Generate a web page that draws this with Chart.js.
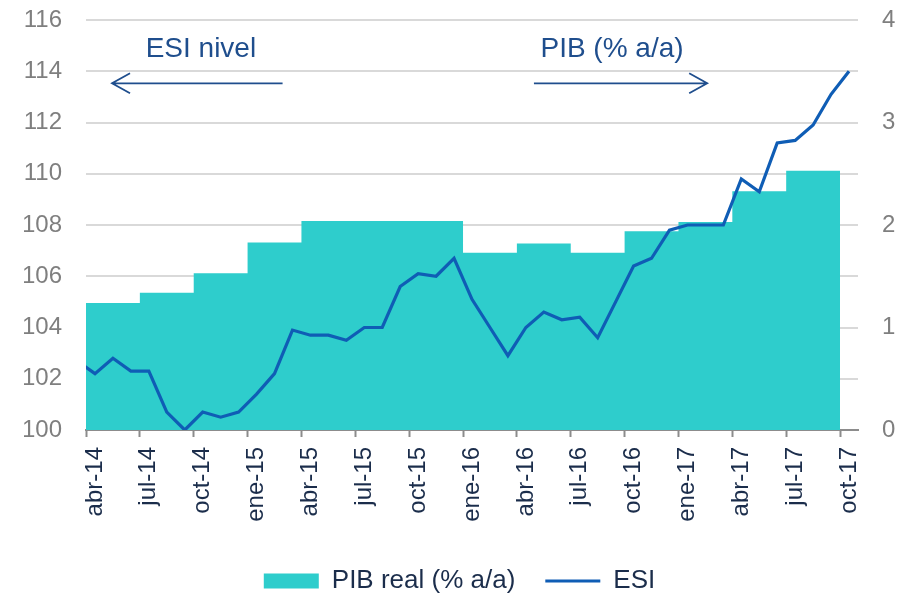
<!DOCTYPE html>
<html>
<head>
<meta charset="utf-8">
<script src="https://cdn.jsdelivr.net/npm/chart.js@4.4.0/dist/chart.umd.min.js"></script>
<style>
  body { margin: 0; background: #fff; }
</style>
</head>
<body>
<canvas id="esiChart" width="908" height="595"></canvas>
<script>
// |------------------------------- Data -------------------------------|

// months of the ESI series (mar-14 sits just left of the axis and is clipped)
var months = ['mar-14', 'abr-14', 'may-14', 'jun-14', 'jul-14', 'ago-14', 'sep-14', 'oct-14', 'nov-14', 'dic-14',
  'ene-15', 'feb-15', 'mar-15', 'abr-15', 'may-15', 'jun-15', 'jul-15', 'ago-15', 'sep-15', 'oct-15', 'nov-15', 'dic-15',
  'ene-16', 'feb-16', 'mar-16', 'abr-16', 'may-16', 'jun-16', 'jul-16', 'ago-16', 'sep-16', 'oct-16', 'nov-16', 'dic-16',
  'ene-17', 'feb-17', 'mar-17', 'abr-17', 'may-17', 'jun-17', 'jul-17', 'ago-17', 'sep-17', 'oct-17'];

var esiValues = [102.7, 102.2, 102.8, 102.3, 102.3, 100.7, 100.0, 100.7, 100.5, 100.7,
  101.4, 102.2, 103.9, 103.7, 103.7, 103.5, 104.0, 104.0, 105.6, 106.1, 106.0, 106.7,
  105.1, 104.0, 102.9, 104.0, 104.6, 104.3, 104.4, 103.6, 105.0, 106.4, 106.7, 107.8,
  108.0, 108.0, 108.0, 109.8, 109.3, 111.2, 111.3, 111.9, 113.1, 114.0];

// quarterly GDP, % y/y (right axis)
var quarters = ['1T14', '2T14', '3T14', '4T14', '1T15', '2T15', '3T15', '4T15',
  '1T16', '2T16', '3T16', '4T16', '1T17', '2T17', '3T17'];
var pibValues = [1.53, 1.24, 1.34, 1.53, 1.83, 2.04, 2.04, 2.04, 1.73, 1.82, 1.73, 1.94, 2.03, 2.33, 2.53];

var tickLabels = ['abr-14', 'jul-14', 'oct-14', 'ene-15', 'abr-15', 'jul-15', 'oct-15', 'ene-16',
  'abr-16', 'jul-16', 'oct-16', 'ene-17', 'abr-17', 'jul-17', 'oct-17'];

// x axis runs in months, 0 = start of abr-14
var esiPoints = esiValues.map(function (v, i) { return { x: i - 0.5, y: v }; });
var pibPoints = pibValues.map(function (v, i) { return { x: i * 3 - 3, y: v }; });
pibPoints.push({ x: pibValues.length * 3 - 3, y: pibValues[pibValues.length - 1] });

var FONT = '"Liberation Sans", Arial, sans-serif';
var BLUE = '#1f4e8d';

// text + arrow notes at the top
var notes = [
  { text: 'ESI nivel', textX: 6.4, textY: 114.55, from: 10.95, to: 1.45, arrowY: 113.53 },
  { text: 'PIB (% a/a)', textX: 29.3, textY: 114.55, from: 24.95, to: 34.6, arrowY: 113.53 }
];

var arrowNotes = {
  id: 'arrowNotes',
  afterDraw: function (chart) {
    var ctx = chart.ctx, xs = chart.scales.x, ys = chart.scales.y;
    ctx.save();
    ctx.fillStyle = BLUE;
    ctx.strokeStyle = BLUE;
    ctx.lineWidth = 1.8;
    ctx.font = '28px ' + FONT;
    ctx.textAlign = 'center';
    ctx.textBaseline = 'alphabetic';
    notes.forEach(function (n) {
      ctx.fillText(n.text, xs.getPixelForValue(n.textX), ys.getPixelForValue(n.textY));
      var x0 = xs.getPixelForValue(n.from), x1 = xs.getPixelForValue(n.to);
      var ay = ys.getPixelForValue(n.arrowY);
      var dir = x1 > x0 ? 1 : -1;
      ctx.beginPath();
      ctx.moveTo(x0, ay);
      ctx.lineTo(x1, ay);
      ctx.moveTo(x1 - dir * 18, ay - 10);
      ctx.lineTo(x1, ay);
      ctx.lineTo(x1 - dir * 18, ay + 10);
      ctx.stroke();
    });
    ctx.restore();
  }
};

// pull the legend a bit closer to the bottom edge
var legendFit = {
  id: 'legendFit',
  beforeInit: function (chart) {
    var fit = chart.legend.fit;
    chart.legend.fit = function () {
      fit.call(this);
      this.height -= 9;
    };
  }
};

function noPadding(scale) {
  scale.paddingLeft = 0;
  scale.paddingRight = 0;
  scale.paddingTop = 0;
  scale.paddingBottom = 0;
}

// |------------------------------- Chart.js - Area + Line -------------------------------|

var ctx = document.getElementById('esiChart').getContext('2d');
var esiChart = new Chart(ctx, {
  type: 'line',
  data: {
    datasets: [{
      label: 'PIB real (% a/a)',
      data: pibPoints,
      yAxisID: 'y1',
      stepped: 'before',
      fill: 'origin',
      backgroundColor: '#2ecdcc',
      borderColor: '#2ecdcc',
      borderWidth: 0,
      pointRadius: 0,
      pointStyle: 'rect',
      order: 2
    }, {
      label: 'ESI',
      data: esiPoints,
      yAxisID: 'y',
      borderColor: '#0f5db5',
      backgroundColor: '#0f5db5',
      borderWidth: 3.2,
      pointRadius: 0,
      pointStyle: 'line',
      tension: 0,
      fill: false,
      order: 1
    }]
  },
  options: {
    responsive: false,
    animation: false,
    layout: { padding: { left: 24, right: 13, top: 20, bottom: 0 } },
    scales: {
      x: {
        type: 'linear',
        min: 0,
        max: 43,
        afterFit: function (scale) { noPadding(scale); scale.height = 108; },
        grid: { drawOnChartArea: false, drawTicks: true, tickLength: 7, tickColor: '#8c8c8c', tickWidth: 2 },
        border: { color: '#8c8c8c', width: 2 },
        ticks: {
          stepSize: 3,
          includeBounds: false,
          autoSkip: false,
          minRotation: 90,
          maxRotation: 90,
          labelOffset: 9,
          padding: 10,
          color: '#1b2d4b',
          font: { family: FONT, size: 24 },
          callback: function (v) { return tickLabels[v / 3]; }
        }
      },
      y: {
        position: 'left',
        min: 100,
        max: 116,
        afterFit: function (scale) { noPadding(scale); scale.width = 62; },
        grid: { color: '#d9d9d9', lineWidth: 2, drawTicks: false },
        border: { display: false },
        ticks: { stepSize: 2, padding: 24, color: '#7f7f7f', font: { family: FONT, size: 24 } }
      },
      y1: {
        position: 'right',
        min: 0,
        max: 4,
        afterFit: function (scale) { noPadding(scale); scale.width = 37; },
        grid: { drawOnChartArea: false, drawTicks: false },
        border: { display: false },
        ticks: { stepSize: 1, padding: 24, color: '#7f7f7f', font: { family: FONT, size: 24 } }
      }
    },
    plugins: {
      legend: {
        position: 'bottom',
        labels: {
          usePointStyle: true,
          pointStyleWidth: 55,
          boxHeight: 15,
          padding: 30,
          color: '#1b2d4b',
          font: { family: FONT, size: 26 },
          sort: function (a, b) { return a.datasetIndex - b.datasetIndex; }
        }
      },
      tooltip: { enabled: false }
    }
  },
  plugins: [arrowNotes, legendFit]
});
</script>
</body>
</html>
